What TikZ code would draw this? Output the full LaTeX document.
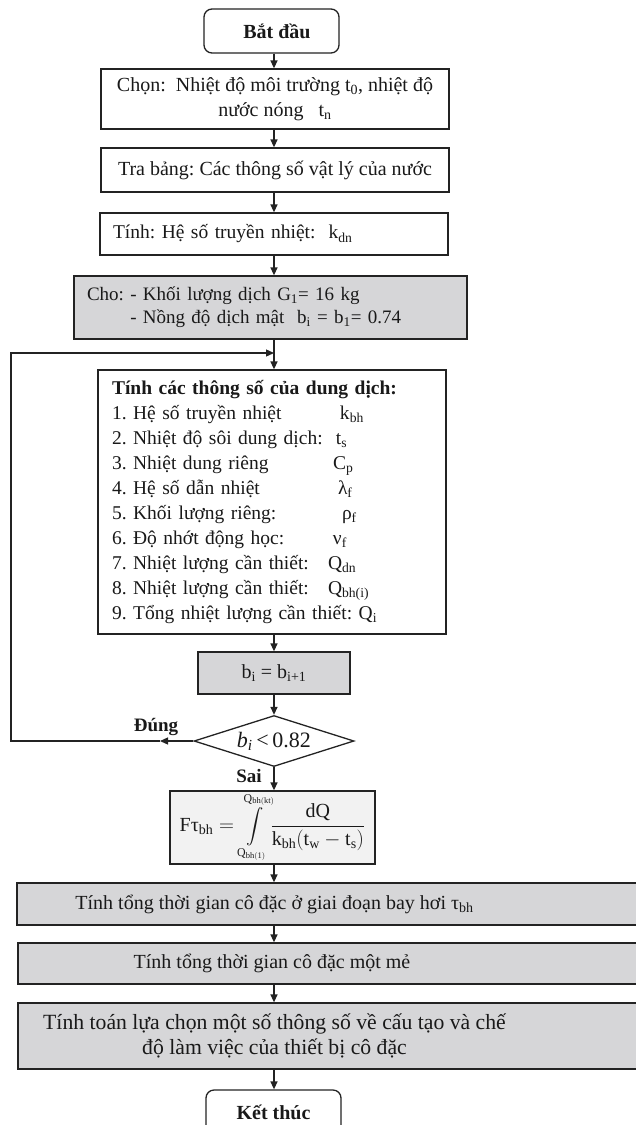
\documentclass[tikz,border=0pt]{standalone}
\usepackage{exscale}
\usepackage{fontspec}
\setmainfont{Liberation Serif}
\usetikzlibrary{arrows.meta,shapes.geometric}
\definecolor{boxgray}{RGB}{214,214,216}
\definecolor{lightbox}{RGB}{242,242,242}
\definecolor{linec}{RGB}{35,35,35}
\newcommand\itm[1]{\makebox[214pt][l]{#1}}
\frenchspacing
\begin{document}
\begin{tikzpicture}[x=1pt,y=-1pt,
  base/.style={draw=linec, line width=1.3pt, font=\fontsize{20pt}{25pt}\selectfont, inner sep=0pt, align=center, text=black!90},
  term/.style={base, rounded corners=8pt, minimum width=135pt, minimum height=44pt, font=\fontsize{20pt}{25pt}\selectfont\bfseries},
  proc/.style={base},
  shade/.style={base, fill=boxgray},
  lbl/.style={font=\fontsize{19pt}{23pt}\selectfont\bfseries, inner sep=0pt, text=black!90},
  arr/.style={draw=linec, line width=1.3pt, -{Triangle[length=8pt,width=7pt]}},
  ln/.style={draw=linec, line width=1.3pt}]
\useasboundingbox (0,0) rectangle (636,1125);
\clip (0,0) rectangle (636,1125);
\coordinate (col) at (274,0);

\node[term] (start) at (271.5,31) {\hspace*{11pt}Bắt đầu};
\node[proc, minimum width=348pt, minimum height=60pt] (b1) at (275,99)
  {Chọn:\ \ Nhiệt độ môi trường t\textsubscript{0}, nhiệt độ\\nước nóng\ \ \ t\textsubscript{n}};
\node[proc, minimum width=348pt, minimum height=44pt] (b2) at (275,170)
  {Tra bảng: Các thông số vật lý của nước};
\node[proc, minimum width=348pt, minimum height=42pt, text width=322pt, align=left, font=\fontsize{19.5pt}{25pt}\selectfont] (b3) at (274,234)
  {Tính: Hệ số truyền nhiệt:\ \ k\textsubscript{dn}};
\node[shade, minimum width=393pt, minimum height=63pt, text width=367pt, align=left, font=\fontsize{19pt}{23pt}\selectfont] (b4) at (270.5,307.5)
  {\begin{tabular}{@{}l@{ }l@{}}Cho: & - Khối lượng dịch G\textsubscript{1}= 16 kg\\ & - Nồng độ dịch mật\ \ b\textsubscript{i} = b\textsubscript{1}= 0.74\end{tabular}};
\node[proc, minimum width=348pt, minimum height=264pt, text width=320pt, align=left, font=\fontsize{19.5pt}{25pt}\selectfont] (b5) at (272,502)
  {\begin{tabular}{@{}l@{}l@{}}
  \multicolumn{2}{@{}l@{}}{\bfseries Tính các thông số của dung dịch:}\\
  \itm{1. Hệ số truyền nhiệt} & \hspace{14pt}k\textsubscript{bh}\\
  \itm{2. Nhiệt độ sôi dung dịch:} & \hspace{10pt}t\textsubscript{s}\\
  \itm{3. Nhiệt dung riêng} & \hspace{7pt}C\textsubscript{p}\\
  \itm{4. Hệ số dẫn nhiệt} & \hspace{12pt}λ\textsubscript{f}\\
  \itm{5. Khối lượng riêng:} & \hspace{16pt}ρ\textsubscript{f}\\
  \itm{6. Độ nhớt động học:} & \hspace{7pt}ν\textsubscript{f}\\
  \itm{7. Nhiệt lượng cần thiết:} & \hspace{2pt}Q\textsubscript{dn}\\
  \itm{8. Nhiệt lượng cần thiết:} & \hspace{2pt}Q\textsubscript{bh(i)}\\
  \multicolumn{2}{@{}l@{}}{9. Tổng nhiệt lượng cần thiết: Q\textsubscript{i}}
  \end{tabular}};
\node[shade, minimum width=152pt, minimum height=42pt] (b6) at (274,673)
  {b\textsubscript{i} = b\textsubscript{i+1}};
\node[base, shape=diamond, aspect=3, minimum width=160pt, minimum height=51pt, font=\fontsize{22pt}{26pt}\selectfont] (dia) at (274,741)
  {\textit{b}\textsubscript{\textit{i}}\,<\,0.82};
\node[base, fill=lightbox, minimum width=205pt, minimum height=73pt] (form) at (272.5,827.5)
  {$\displaystyle\mathrm{F}\mbox{τ}_{\mathrm{bh}} =
   \mbox{\fontsize{17pt}{20pt}\selectfont$\displaystyle\int\limits_{\mathrm{Q}_{\mathrm{bh(1)}}}^{\mathrm{Q}_{\mathrm{bh(kt)}}}$}
   \frac{\mathrm{dQ}}{\mathrm{k}_{\mathrm{bh}}(\mathrm{t}_{\mathrm{w}}-\mathrm{t}_{\mathrm{s}})}$};
\node[shade, minimum width=623pt, minimum height=42pt] (b8) at (328.5,904)
  {Tính tổng thời gian cô đặc ở giai đoạn bay hơi τ\textsubscript{bh}\hspace*{108pt}};
\node[shade, minimum width=622pt, minimum height=41pt] (b9) at (329,963.5)
  {Tính tổng thời gian cô đặc một mẻ\hspace*{114pt}};
\node[shade, minimum width=622pt, minimum height=66pt, font=\fontsize{21.7pt}{25pt}\selectfont] (b10) at (329,1036)
  {Tính toán lựa chọn một số thông số về cấu tạo và chế\hspace*{109pt}\\độ làm việc của thiết bị cô đặc\hspace*{109pt}};
\node[term] (end) at (273.5,1112) {Kết thúc};

\node[lbl] (yes) at (156,727) {Đúng};
\node[lbl] (no) at (249,776) {Sai};

\draw[arr] (start.south -| col) -- (b1.north -| col);
\draw[arr] (b1.south -| col) -- (b2.north -| col);
\draw[arr] (b2.south -| col) -- (b3.north -| col);
\draw[arr] (b3.south -| col) -- (b4.north -| col);
\draw[arr] (b4.south -| col) -- (b5.north -| col);
\draw[arr] (b5.south -| col) -- (b6.north -| col);
\draw[arr] (b6.south -| col) -- (dia.north);
\draw[arr] (dia.south) -- (form.north -| col);
\draw[arr] (form.south -| col) -- (b8.north -| col);
\draw[arr] (b8.south -| col) -- (b9.north -| col);
\draw[arr] (b9.south -| col) -- (b10.north -| col);
\draw[arr] (b10.south -| col) -- (end.north -| col);

\coordinate (tipL) at (160,741);
\coordinate (lc) at (11,741);
\coordinate (merge) at (274,353);
\draw[arr] (dia.west) -- (tipL);
\draw[arr] (tipL) -- (lc) |- (merge);
\end{tikzpicture}
\end{document}
